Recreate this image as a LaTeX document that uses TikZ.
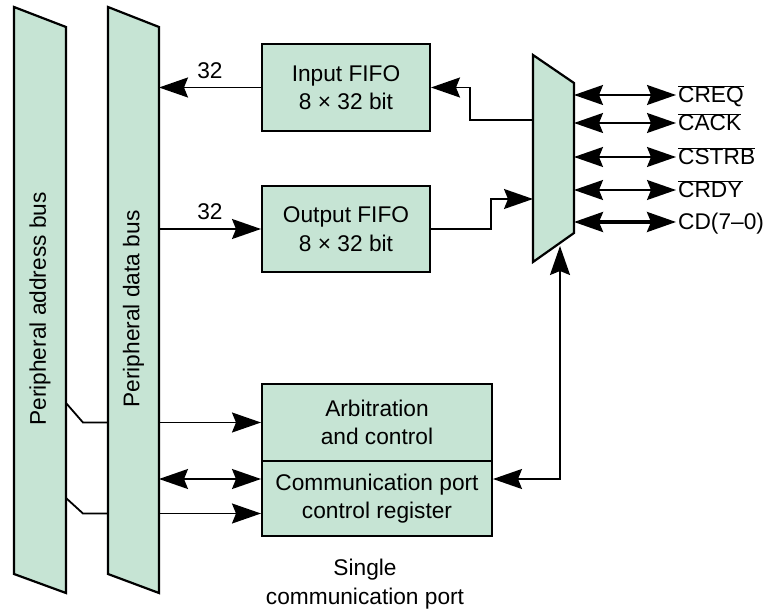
\documentclass[tikz,border=0pt]{standalone}
\usepackage{fontspec}
\setmainfont{Liberation Sans}
\usetikzlibrary{arrows.meta,positioning}

\definecolor{portgreen}{RGB}{198,228,212}
\newcommand{\ovl}[1]{$\overline{\mbox{#1}}$}

\begin{document}
\begin{tikzpicture}[x=1pt, y=-1pt,
        font=\fontsize{22.7}{28.5}\selectfont,
        bigtip/.tip={Stealth[length=29pt, width=20pt, inset=4pt]},
        bus/.style={draw, line width=2.2pt, fill=portgreen, line join=miter},
        block/.style={draw, line width=2pt, fill=portgreen, align=center,
            inner sep=0pt, minimum width=168pt, minimum height=87pt},
        wideblock/.style={block, minimum width=230pt, minimum height=77pt},
        wire/.style={line width=1.8pt},
        oneway/.style={wire, -bigtip},
        twoway/.style={wire, bigtip-bigtip},
        sig/.style={anchor=west, inner sep=2pt, text height=16pt, text depth=0pt}]
    \useasboundingbox (0,0) rectangle (773,612);

    % Peripheral buses
    \draw[bus] (14,7) -- (66,27) -- (66,593) -- (14,574) -- cycle;
    \node[rotate=90] (addrbus) at (40,309) {Peripheral address bus};
    \draw[bus] (108,7) -- (159,27) -- (159,593) -- (108,574) -- cycle;
    \node[rotate=90] (databus) at (133.5,309) {Peripheral data bus};
    \coordinate (addr-r) at (66,0);
    \coordinate (data-l) at (108,0);
    \coordinate (data-r) at (159,0);

    % Blocks
    \node[block] (infifo) at (346,87.5) {Input FIFO\\8 × 32 bit};
    \node[block, minimum height=86pt] (outfifo) at (346,229) {Output FIFO\\8 × 32 bit};
    \node[wideblock] (arb) at (377,422.5) {Arbitration\\and control};
    \node[wideblock, minimum height=75pt] (cpcr) at (377,498.5) {Communication port\\control register};
    \node[below=22pt of cpcr, xshift=-12pt, align=center, inner sep=0pt] (caption)
        {Single\\communication port};

    % Multiplexer
    \draw[bus] (533,55) -- (574,83) -- (574,233) -- (533,262) -- cycle;
    \coordinate (mux-in) at (533,120);
    \coordinate (mux-out) at (533,199);
    \coordinate (mux-r) at (574,0);
    \coordinate (mux-b) at (560,246);

    % Port signals
    \node[sig] (creq) at (676,95) {\ovl{CREQ}};
    \node[sig] (cack) at (676,123) {\ovl{CACK}};
    \node[sig] (cstrb) at (676,157) {\ovl{CSTRB}};
    \node[sig] (crdy) at (676,190) {\ovl{CRDY}};
    \node[sig] (cd) at (676,222) {CD(7–0)};
    \draw[twoway] (creq.west -| mux-r) -- (creq.west);
    \draw[twoway] (cack.west -| mux-r) -- (cack.west);
    \draw[twoway] (cstrb.west -| mux-r) -- (cstrb.west);
    \draw[twoway] (crdy.west -| mux-r) -- (crdy.west);
    \draw[twoway, line width=3.2pt] (cd.west -| mux-r) -- (cd.west);

    % FIFOs to data bus and multiplexer
    \draw[oneway] (infifo.west) -- node[above=5pt, inner sep=3pt] (inwidth) {32} (infifo.west -| data-r);
    \draw[oneway] (outfifo.west -| data-r) -- node[above=5pt, inner sep=3pt] (outwidth) {32} (outfifo.west);
    \draw[oneway] (mux-in) -- ++(-63,0) |- (infifo.east);
    \draw[oneway] (outfifo.east) -- ++(60,0) |- (mux-out);

    % Control part
    \coordinate (cpcr-up) at ([yshift=19.5pt]cpcr.west);
    \coordinate (cpcr-dn) at ([yshift=-15pt]cpcr.west);
    \coordinate (cpcr-rt) at ([yshift=19.5pt]cpcr.east);
    \coordinate (addr-a) at (66,403);
    \coordinate (addr-b) at (66,498);
    \draw[wire] (addr-a) -- ++(17,19.5) -- (arb.west -| data-l);
    \draw[wire] (addr-b) -- ++(17,15.5) -- (cpcr-dn -| data-l);
    \draw[oneway] (arb.west -| data-r) -- (arb.west);
    \draw[twoway] (cpcr-up -| data-r) -- (cpcr-up);
    \draw[oneway] (cpcr-dn -| data-r) -- (cpcr-dn);
    \draw[twoway] (cpcr-rt) -| (mux-b);
\end{tikzpicture}
\end{document}
